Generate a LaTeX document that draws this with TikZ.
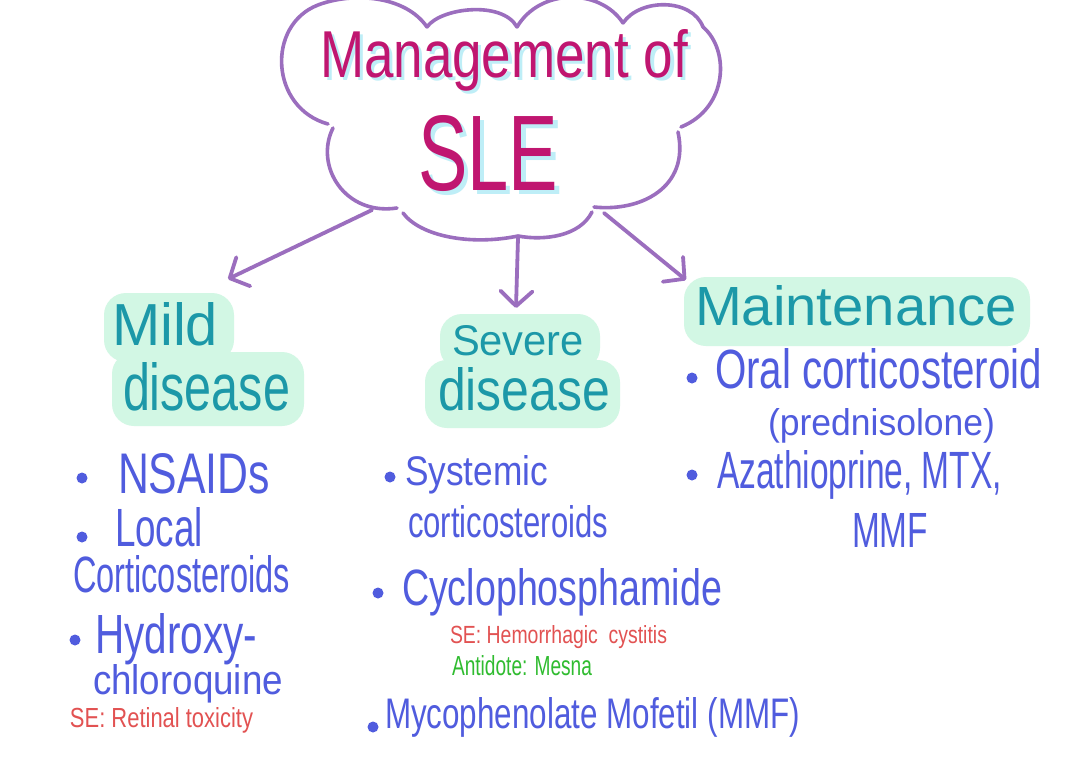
\documentclass[tikz,border=0pt]{standalone}
\usepackage{fontspec}
\usepackage{graphicx}
\usetikzlibrary{arrows.meta}
\newfontfamily\hand{Liberation Sans}
\definecolor{cloudpurple}{RGB}{155,110,190}
\definecolor{titlemag}{RGB}{192,22,112}
\definecolor{titleshadow}{RGB}{190,238,247}
\definecolor{headteal}{RGB}{28,152,168}
\definecolor{mint}{RGB}{210,247,228}
\definecolor{itemblue}{RGB}{80,92,222}
\definecolor{sered}{RGB}{226,82,82}
\definecolor{antigreen}{RGB}{48,188,48}
\newcommand{\fitt}[3]{\resizebox{#1pt}{#2pt}{\hand #3}}
\newcommand{\shadowed}[3]{\makebox[0pt][l]{\hspace{#2pt}\raisebox{-#3pt}{\color{titleshadow}#1}}#1}
\begin{document}
\begin{tikzpicture}[x=1pt,y=-1pt,
  txt/.style={anchor=base west, inner sep=0pt, outer sep=0pt},
  title/.style={txt, text=titlemag},
  head/.style={txt, text=headteal},
  item/.style={txt, text=itemblue},
  sideeff/.style={txt, text=sered},
  anti/.style={txt, text=antigreen},
  dot/.style={circle, fill=itemblue, inner sep=0pt, minimum size=11pt},
  cloudline/.style={draw=cloudpurple, line width=3.6pt, line cap=round},
  arr/.style={draw=cloudpurple, line width=3.8pt, line cap=round, line join=round,
    -{Straight Barb[length=15pt,width=32pt,line cap=round,line join=round]}},
  hl/.style={fill=mint, rounded corners=22pt}]
\useasboundingbox (0,0) rectangle (1080,763);
\fill[white] (0,0) rectangle (1080,763);
\clip (0,0) rectangle (1080,763);

% cloud
\draw[cloudline] (328,124) .. controls (270,108) and (266,25) .. (318,5)
   .. controls (352,-8) and (405,-5) .. (427,27);
\draw[cloudline] (427,27) .. controls (440,8) and (502,0) .. (517,27);
\draw[cloudline] (517,27) .. controls (540,-12) and (600,-12) .. (623,23);
\draw[cloudline] (623,23) .. controls (640,-2) and (692,-2) .. (703,27);
\draw[cloudline] (703,27) .. controls (730,50) and (728,108) .. (681,127);
\draw[cloudline] (678,132) .. controls (690,188) and (640,212) .. (594,207);
\draw[cloudline] (592,212) .. controls (580,236) and (545,241) .. (518,236);
\draw[cloudline] (518,236) .. controls (470,246) and (420,236) .. (403,213);
\draw[cloudline] (397,208) .. controls (345,216) and (314,166) .. (333,128);

% title (with light cyan shadow in the same text)
\node[title] (mgmt) at (320,77) {\fitt{368}{48}{\shadowed{Management of}{0.6}{0.6}}};
\node[title] (sle) at (418,190) {\fitt{140}{75}{\shadowed{SLE}{0.6}{0.45}}};

% arrows
\coordinate (cL) at (372,210);
\coordinate (tL) at (228,279);
\coordinate (cM) at (518,238);
\coordinate (tM) at (516,308);
\coordinate (cR) at (604,213);
\coordinate (tR) at (686,280);
\draw[arr] (cL) -- (tL);
\draw[arr] (cM) -- (tM);
\draw[arr] (cR) -- (tR);

% highlights
\fill[hl] (104,293) rectangle (234,362);
\fill[hl] (112,352) rectangle (304,426);
\fill[hl] (440,314) rectangle (600,370);
\fill[hl] (425,360) rectangle (620,428);
\fill[hl] (684,277) rectangle (1030,346);

% headings
\node[head] (mild) at (112,345) {\fitt{106}{43}{Mild}};
\node[head] (milddis) at (123,410) {\fitt{167}{48}{disease}};
\node[head] (severe) at (452,355) {\fitt{132}{30}{Severe}};
\node[head] (sevdis) at (438,410) {\fitt{172}{43}{disease}};
\node[head] (maint) at (695,325) {\fitt{322}{40}{Maintenance}};

% mild column
\node[dot] (b1) at (82,478) {};
\node[item] (nsaids) at (118,493) {\fitt{152}{40}{NSAIDs}};
\node[dot] (b2) at (82,537) {};
\node[item] (local) at (115,546) {\fitt{88}{39}{Local}};
\node[item] (corti1) at (73,592) {\fitt{217}{37}{Corticosteroids}};
\node[dot] (b3) at (75,640) {};
\node[item] (hydroxy) at (95,653) {\fitt{162}{40}{Hydroxy-}};
\node[item] (chloro) at (93,694) {\fitt{190}{30}{chloroquine}};
\node[sideeff] (se1) at (70,727) {\fitt{183}{20}{SE: Retinal toxicity}};

% severe column
\node[dot] (b4) at (390,477) {};
\node[item] (systemic) at (405,485) {\fitt{143}{30}{Systemic}};
\node[item] (corti2) at (408,537) {\fitt{200}{32}{corticosteroids}};
\node[dot] (b5) at (378,593) {};
\node[item] (cyclo) at (402,605) {\fitt{320}{37}{Cyclophosphamide}};
\node[sideeff] (se2) at (450,643) {\fitt{217}{18}{SE: Hemorrhagic\ \ cystitis}};
\node[anti] (antidote) at (452,675) {\fitt{140}{20}{Antidote: Mesna}};
\node[dot] (b6) at (373,727) {};
\node[item] (myco) at (385,728) {\fitt{415}{31}{Mycophenolate Mofetil (MMF)}};

% maintenance column
\node[dot] (b7) at (692,378) {};
\node[item] (oral) at (715,388) {\fitt{327}{40}{Oral corticosteroid}};
\node[item] (pred) at (768,435) {\fitt{227}{27}{(prednisolone)}};
\node[dot] (b8) at (692,475) {};
\node[item] (aza) at (717,488) {\fitt{285}{38}{Azathioprine, MTX,}};
\node[item] (mmf) at (852,547) {\fitt{76}{34}{MMF}};
\end{tikzpicture}
\end{document}
